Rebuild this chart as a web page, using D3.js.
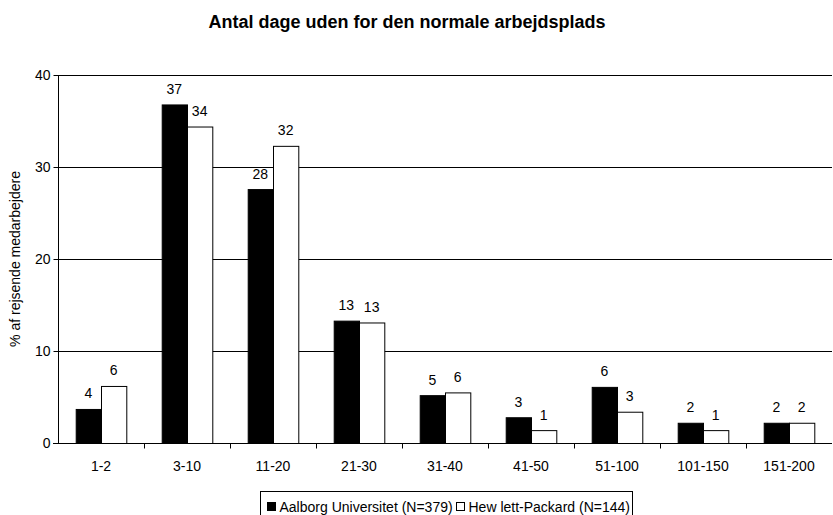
<!DOCTYPE html>
<html>
<head>
<meta charset="utf-8">
<script src="https://cdn.jsdelivr.net/npm/d3@7"></script>
<style>
  body { margin: 0; background: #fff; }
  svg { font-family: "Liberation Sans", Arial, sans-serif; }
</style>
</head>
<body>
<svg id="chart"></svg>
<script>
const categories = ["1-2", "3-10", "11-20", "21-30", "31-40", "41-50", "51-100", "101-150", "151-200"];
const aau = [3.7, 36.8, 27.6, 13.3, 5.2, 2.8, 6.1, 2.2, 2.2];
const hp = [6.2, 34.4, 32.3, 13.1, 5.5, 1.4, 3.4, 1.4, 2.2];
const seriesNames = ["Aalborg Universitet (N=379)", "Hew lett-Packard (N=144)"];
const yTicks = [0, 10, 20, 30, 40];

const W = 833, H = 515;
const margin = { top: 75, right: 1, bottom: 72, left: 58 },
      width = W - margin.left - margin.right,
      height = H - margin.top - margin.bottom;

const root = d3.select("#chart").attr("width", W).attr("height", H);

root.append("text")
    .attr("x", 407).attr("y", 28)
    .attr("text-anchor", "middle")
    .style("font-weight", "bold").style("font-size", "18px")
    .text("Antal dage uden for den normale arbejdsplads");

const svg = root.append("g")
    .attr("transform", `translate(${margin.left},${margin.top})`);

const x = d3.scaleBand().domain(categories).range([0, width]).paddingInner(0).paddingOuter(0);
const inner = d3.scaleBand().domain([0, 1]).range([0, x.bandwidth()]).paddingInner(0).paddingOuter(0.7);
const y = d3.scaleLinear().domain([0, 40]).range([height, 0]);

// gridlines
svg.append("g")
    .selectAll("line")
    .data(yTicks.filter(d => d > 0))
    .enter().append("line")
    .attr("x1", 0).attr("x2", width)
    .attr("y1", d => y(d) + 0.5).attr("y2", d => y(d) + 0.5)
    .attr("stroke", "#000").attr("stroke-width", 1);

const rows = categories.map((c, i) => ({ cat: c, vals: [aau[i], hp[i]] }));

const groups = svg.selectAll(".grp")
    .data(rows)
    .enter().append("g")
    .attr("transform", d => `translate(${x(d.cat)},0)`);

groups.selectAll("rect")
    .data(d => d.vals.map((v, k) => ({ v, k })))
    .enter().append("rect")
    .attr("x", d => inner(d.k) + 0.5)
    .attr("y", d => y(d.v) + 0.5)
    .attr("width", inner.bandwidth())
    .attr("height", d => height - y(d.v))
    .attr("fill", d => d.k === 0 ? "#000" : "#fff")
    .attr("stroke", "#000").attr("stroke-width", 1);

groups.selectAll(".lbl")
    .data(d => d.vals.map((v, k) => ({ v, k })))
    .enter().append("text")
    .attr("x", d => inner(d.k) + inner.bandwidth() / 2)
    .attr("y", d => y(d.v) - 10.5)
    .attr("text-anchor", "middle")
    .style("font-size", "14px")
    .text(d => Math.round(d.v));

// y axis
const yAxis = svg.append("g")
    .call(d3.axisLeft(y).tickValues(yTicks).tickSize(5).tickPadding(3))
    .attr("transform", "translate(0.5,0)");
yAxis.select(".domain").attr("d", `M0,0V${height}`);
yAxis.selectAll("text").style("font-size", "14px").attr("font-family", null);
yAxis.selectAll(".tick line").attr("stroke", "#000");

// x axis
const xAxis = svg.append("g")
    .attr("transform", `translate(0,${height + 0.5})`)
    .call(d3.axisBottom(x).tickSize(0).tickPadding(18));
xAxis.select(".domain").attr("d", `M-5,0H${width}`);
xAxis.selectAll("text").style("font-size", "14px").attr("font-family", null);
xAxis.selectAll(".sep")
    .data(categories.slice(1))
    .enter().append("line")
    .attr("x1", d => Math.round(x(d)) + 0.5).attr("x2", d => Math.round(x(d)) + 0.5)
    .attr("y1", 0).attr("y2", 5)
    .attr("stroke", "#000");

root.append("text")
    .attr("transform", `translate(20,${margin.top + height / 2}) rotate(-90)`)
    .attr("text-anchor", "middle")
    .style("font-size", "14px")
    .text("% af rejsende medarbejdere");

// legend
const legend = root.append("g").attr("transform", "translate(260.5,491.5)");
legend.append("rect")
    .attr("width", 372).attr("height", 26)
    .attr("fill", "#fff").attr("stroke", "#000");
const legX = [7, 196];
seriesNames.forEach((name, k) => {
    legend.append("rect")
        .attr("x", legX[k]).attr("y", 11)
        .attr("width", 8).attr("height", 8)
        .attr("fill", k === 0 ? "#000" : "#fff")
        .attr("stroke", "#000");
    legend.append("text")
        .attr("x", legX[k] + 12).attr("y", 20.5)
        .style("font-size", "14px")
        .text(name);
});
</script>
</body>
</html>
